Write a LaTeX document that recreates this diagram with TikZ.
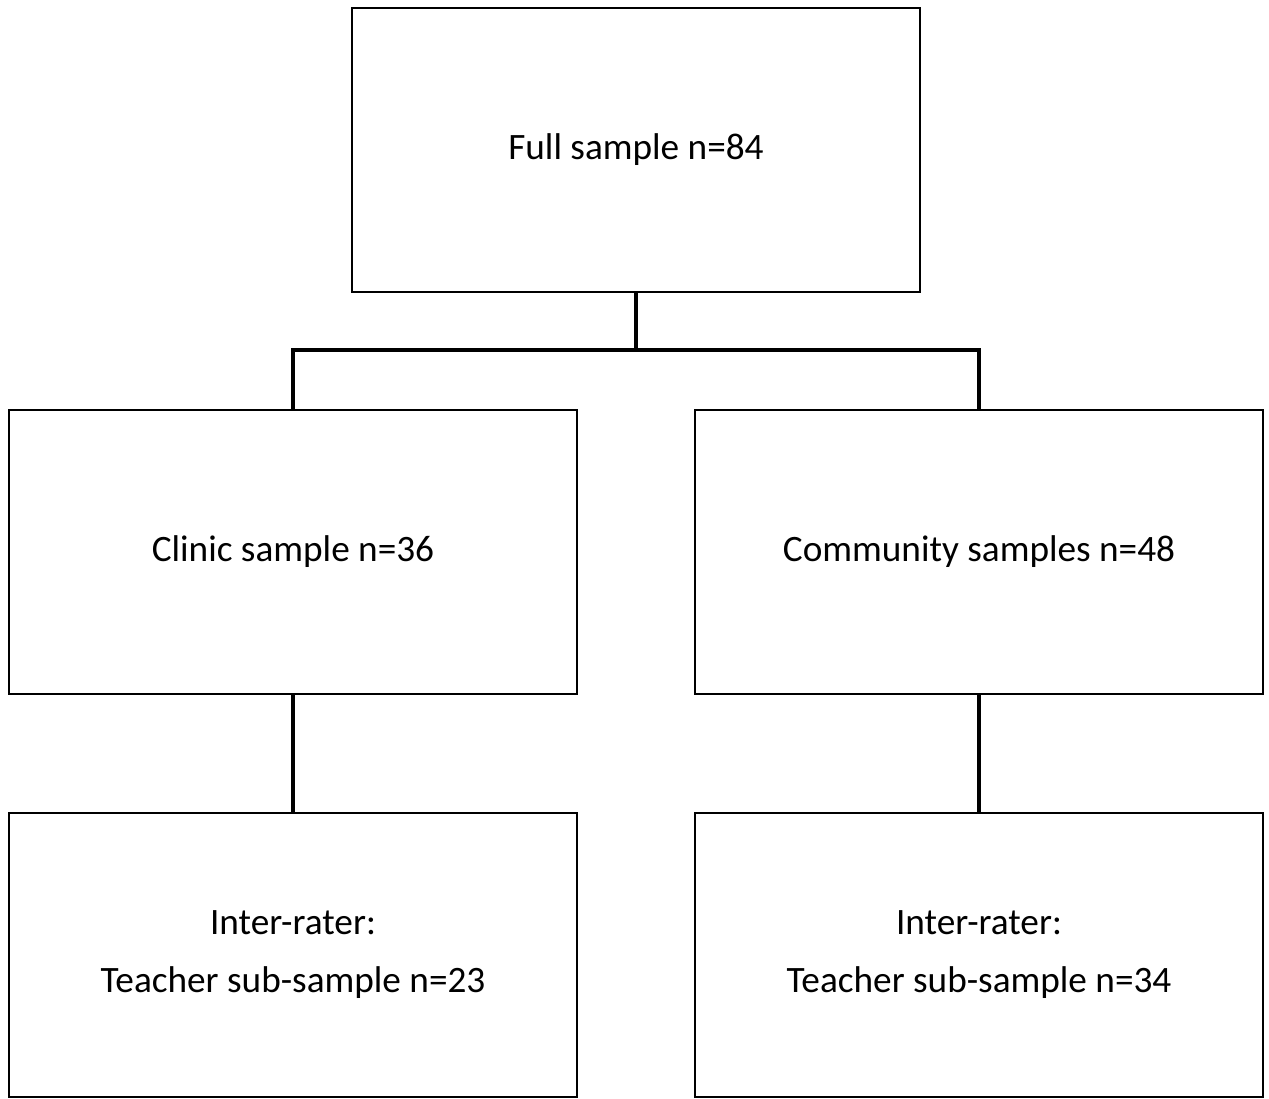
\documentclass[tikz,border=0pt]{standalone}
\usepackage{fontspec}
\setmainfont{Carlito}
\usetikzlibrary{positioning}

\begin{document}
\begin{tikzpicture}[
  sbox/.style={draw, line width=1.1pt, minimum width=11.36cm, minimum height=5.68cm,
               align=center, inner sep=0pt, font=\fontsize{21.2}{33}\selectfont},
  conn/.style={line width=2.4pt}
]
\useasboundingbox (0,0) rectangle (25.38,-21.96);

\node[sbox] (full) at (12.72,-3.0) {Full sample n=84};
\node[sbox] (clinic) at (5.86,-11.04) {Clinic sample n=36};
\node[sbox] (community) at (19.58,-11.04) {Community samples n=48};
\node[sbox, below=2.34cm of clinic] (clinicsub) {Inter-rater:\\Teacher sub-sample n=23};
\node[sbox, below=2.34cm of community] (communitysub) {Inter-rater:\\Teacher sub-sample n=34};

% joins
\coordinate (split) at (12.72,-7.0);
\draw[conn] (full.south) -- (split) -| (clinic.north);
\draw[conn] (split) -| (community.north);
\draw[conn] (clinic) -- (clinicsub);
\draw[conn] (community) -- (communitysub);
\end{tikzpicture}
\end{document}
